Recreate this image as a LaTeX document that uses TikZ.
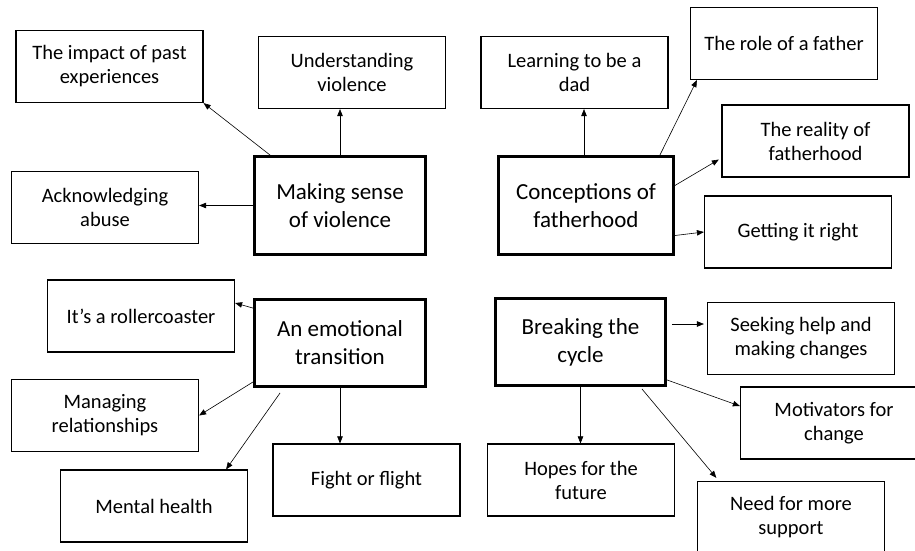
\documentclass[tikz,border=0pt]{standalone}
\usepackage{fontspec}
\setmainfont{Carlito}
\usetikzlibrary{arrows.meta}

\begin{document}
\begin{tikzpicture}[x=1pt, y=-1pt,
  theme/.style={draw, line width=2.8pt, align=center, inner sep=0pt,
    font=\fontsize{23}{28}\selectfont, minimum width=171pt, minimum height=98pt},
  sub/.style={draw, line width=1.2pt, align=center, inner sep=0pt,
    font=\fontsize{20.5}{24}\selectfont, minimum width=187pt, minimum height=72pt},
  arr/.style={-{Triangle[length=7pt,width=5.5pt]}, line width=0.6pt}]

% Page
\useasboundingbox (0,0) rectangle (915,550);
\clip (0,0) rectangle (915,550);

% Making sense of violence
\node[theme] (making) at (340,205.5) {Making sense\\of violence};
\node[sub] (impact) at (109.5,66.5) {The impact of past\\experiences};
\node[sub] (underst) at (352,72.5) {Understanding\\violence};
\node[sub] (acknow) at (105,207.5) {Acknowledging\\abuse};
\draw[arr] ([xshift=17pt]making.north west) -- (impact.south east);
\draw[arr] (making.north) -- (making.north |- underst.south);
\draw[arr] (making.west) -- (making.west -| acknow.east);

% Conceptions of fatherhood
\node[theme, minimum width=175pt] (concept) at (586,205.5) {Conceptions of\\fatherhood};
\node[sub] (learning) at (574.5,72.5) {Learning to be a\\dad};
\node[sub] (role) at (784,43.5) {The role of a father};
\node[sub] (reality) at (815.5,141) {The reality of\\fatherhood};
\node[sub] (getting) at (798,232) {Getting it right};
\draw[arr] ([xshift=-2pt]concept.north) -- ([xshift=-2pt]concept.north |- learning.south);
\draw[arr] ([xshift=-15pt]concept.north east) -- ([xshift=7pt]role.south west);
\draw[arr, shorten >=3pt] ([yshift=20pt]concept.east) -- ([yshift=-17pt]reality.west);
\draw[arr] ([yshift=-30pt]concept.east) -- (getting.west);

% An emotional transition
\node[theme, minimum height=87pt] (emotion) at (340,343) {An emotional\\transition};
\node[sub] (roller) at (141,316) {It’s a rollercoaster};
\node[sub] (managing) at (105,415.5) {Managing\\relationships};
\node[sub] (mental) at (154,506) {Mental health};
\node[sub] (fight) at (366.5,480) {Fight or flight};
\draw[arr] ([yshift=-10pt]emotion.north west) -- ([yshift=13pt]roller.east);
\draw[arr] ([yshift=6pt]emotion.south west) -- (managing.east);
\draw[arr] ([xshift=27pt,yshift=-5pt]emotion.south west) -- ([xshift=-22pt]mental.north east);
\draw[arr] (emotion.south) -- (emotion.south |- fight.north);

% Breaking the cycle
\node[theme, minimum height=87pt, minimum width=170pt] (breaking) at (580.5,342) {Breaking the\\cycle};
\node[sub] (seeking) at (801,338.5) {Seeking help and\\making changes};
\node[sub] (motiv) at (834,423) {Motivators for\\change};
\node[sub] (hopes) at (581,480) {Hopes for the\\future};
\node[sub] (need) at (791,517.5) {Need for more\\support};
\draw[arr, shorten >=3pt] ([xshift=5pt,yshift=18pt]breaking.east) -- ([yshift=14.5pt]seeking.west);
\draw[arr] ([yshift=7pt]breaking.south east) -- ([yshift=17pt]motiv.west);
\draw[arr, shorten >=4pt] ([xshift=-25pt,yshift=-2pt]breaking.south east) -- ([xshift=22pt]need.north west);
\draw[arr] (breaking.south) -- (breaking.south |- hopes.north);

\end{tikzpicture}
\end{document}
